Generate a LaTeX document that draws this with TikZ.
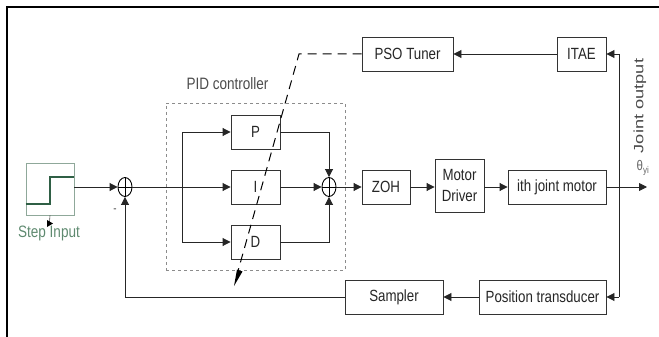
\documentclass[tikz,border=0pt]{standalone}
\usepackage{fontspec}
\setmainfont[FakeStretch=0.82]{Liberation Sans}
\newfontfamily\widefont[FakeStretch=1.35]{Liberation Sans}
\usetikzlibrary{arrows.meta,shapes.geometric}
\definecolor{stepdark}{HTML}{2F5F45}
\definecolor{steplight}{HTML}{8FA89A}
\definecolor{steptext}{HTML}{5F8A70}
\definecolor{linegrey}{HTML}{333333}
\tikzset{
  x=1pt,y=-1pt,
  tip/.style={-{Triangle[length=8pt,width=8pt]}},
  blockbox/.style={draw=linegrey,line width=0.9pt,fill=white,minimum width=#1,minimum height=34pt,inner sep=0pt,font=\fontsize{16.2}{18}\selectfont,text=black!85},
  blockbox/.default=49pt,
  summer/.style={draw=black,line width=0.9pt,ellipse,minimum width=14pt,minimum height=19pt,inner sep=0pt},
  conn/.style={draw=black!85,line width=0.9pt},
  labeltext/.style={font=\fontsize{16.5}{18}\selectfont,text=black!70,inner sep=0pt}
}
\begin{document}
\begin{tikzpicture}
\useasboundingbox (0,0) rectangle (659,337);
\draw[line width=2pt] (659,7.5) -- (6.5,7.5) -- (6.5,337);
% PID frame
\node[draw=black!45,dashed,line width=0.7pt,minimum width=179pt,minimum height=167pt,inner sep=0pt] (pid) at (255.5,186.5) {};
\node[labeltext] (pidlabel) at (227.5,84) {PID controller};
% blocks
\node[blockbox=91pt] (pso) at (407.5,54) {PSO Tuner};
\node[blockbox] (itae) at (581.5,54) {ITAE};
\node[blockbox] (p) at (255.5,132) {P};
\node[blockbox] (i) at (255.5,187) {I};
\node[blockbox] (d) at (255.5,242) {D};
\node[blockbox=48pt] (zoh) at (386,187) {ZOH};
\node[blockbox,minimum height=53pt,align=center] (driver) at (459.5,185.5) {Motor\\[3pt]Driver};
\node[blockbox=98pt] (motor) at (557,187) {ith joint motor};
\node[blockbox=98pt] (sampler) at (394,297) {Sampler};
\node[blockbox=127pt] (trans) at (542.5,297) {Position transducer};
% step block
\node[draw=steplight,line width=0.9pt,minimum width=48pt,minimum height=52pt,inner sep=0pt] (step) at (50,189) {};
\draw[stepdark,line width=1.1pt] (step.west |- 0,204) -- (50,204) -- (50,177) -- (step.east |- 0,177);
\node[font=\fontsize{16.5}{18}\selectfont,text=steptext,inner sep=0pt] (steplabel) at (49,233) {Step Input};
\coordinate (stepa) at (step.south);
\coordinate (stepb) at (49.5,222);
\draw[black!70,line width=0.6pt] (stepa) -- (stepb);
\fill[black] (47,220) -- (53,223.5) -- (47,227) -- cycle;
% summers
\node[summer] (s1) at (125,187) {};
\draw[black,line width=0.6pt] (s1.north) -- (s1.south) (s1.west) -- (s1.east);
\node[summer] (s2) at (329,187) {};
\draw[black,line width=0.6pt] (s2.north) -- (s2.south) (s2.west) -- (s2.east);
\node[inner sep=0pt,font=\fontsize{12}{12}\selectfont,text=black!70] (minus) at (115,211) {-};
% forward path
\draw[conn,tip] (step.east |- s1) -- (s1.west);
\coordinate (split) at (182,187);
\draw[conn] (s1.east) -- (split);
\draw[conn,tip] (split) -- (i.west);
\draw[conn,tip] (split) |- (p.west);
\draw[conn,tip] (split) |- (d.west);
\draw[conn,tip] (i.east) -- (s2.west);
\draw[conn,tip] (p.east) -| (s2.north);
\draw[conn,tip] (d.east) -| (s2.south);
\draw[conn,tip] (s2.east) -- (zoh.west);
\draw[conn,tip] (zoh.east) -- (driver.west |- zoh);
\draw[conn,tip] (driver.east |- motor) -- (motor.west);
\coordinate (outtip) at (647,187);
\draw[conn,tip] (motor.east) -- (outtip);
% sensing
\coordinate (vtop) at (619,54);
\coordinate (vbot) at (619,297);
\draw[conn,tip] (vtop) -- (itae.east);
\draw[conn] (vtop) -- (vbot);
\draw[conn,tip] (vbot) -- (trans.east);
\draw[conn,tip] (trans.west) -- (sampler.east);
\coordinate (fb) at (125,297);
\draw[conn] (sampler.west) -- (fb);
\draw[conn,tip] (fb) -- (s1.south);
\draw[conn,tip] (itae.west) -- (pso.east);
% tuning line
\coordinate (bend) at (299,54);
\coordinate (tune) at (234,286);
\draw[black,line width=1pt,dash pattern=on 9pt off 6pt] (pso.west) -- (bend) -- (238,271);
\fill[black] (tune) -- (237,269.5) -- (242.5,271.5) -- cycle;
% output label
\node[labeltext,rotate=90,font=\widefont\fontsize{13.5}{15}\selectfont] (joint) at (640,106) {Joint output};
\node[labeltext,font=\fontsize{14}{16}\selectfont,text=black!60] (theta) at (643,168) {θ\textsubscript{yi}};
\end{tikzpicture}
\end{document}
